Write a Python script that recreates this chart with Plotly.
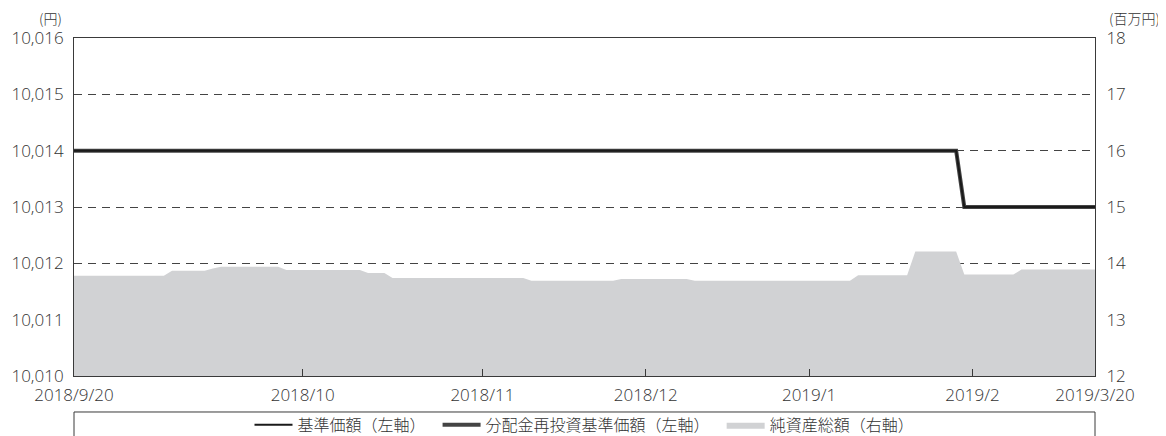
import plotly.graph_objects as go

# x positions are trading-day indices (0 = 2018/9/20, 125 = 2019/3/20)
tick_idx = [0, 28, 50, 70, 90, 110, 125]
tick_labels = ["2018/9/20", "2018/10", "2018/11", "2018/12", "2019/1", "2019/2", "2019/3/20"]

# 基準価額 (円)
nav_idx = [0, 108, 109, 125]
nav_val = [10014, 10014, 10013, 10013]

# 分配金再投資基準価額 (円)
reinv_idx = [0, 108, 109, 125]
reinv_val = [10014, 10014, 10013, 10013]

# 純資産総額 (百万円)
assets_idx = [0, 11, 12, 16, 17, 18, 25, 26, 35, 36, 38, 39, 55, 56, 66, 67,
              75, 76, 95, 96, 102, 103, 108, 109, 115, 116, 125]
assets_val = [13.78, 13.78, 13.87, 13.87, 13.91, 13.94, 13.94, 13.88, 13.88, 13.83,
              13.83, 13.74, 13.74, 13.69, 13.69, 13.72, 13.72, 13.69, 13.69, 13.79,
              13.79, 14.21, 14.21, 13.80, 13.80, 13.89, 13.89]

FONT = "Open Sans, Noto Sans CJK JP"
AX = "#3a3a3a"
TXT = "#333333"
PAD = "\u00a0\u00a0"

fig = go.Figure()
fig.add_trace(go.Scatter(
    x=assets_idx, y=assets_val, name="純資産総額（右軸）", mode="lines",
    line=dict(width=0, color="#d1d2d4"), fill="tozeroy", fillcolor="#d1d2d4",
    xaxis="x", yaxis="y", legendrank=3, hoverinfo="skip"))
fig.add_trace(go.Scatter(
    x=reinv_idx, y=reinv_val, name="分配金再投資基準価額（左軸）" + PAD, mode="lines",
    line=dict(width=4, color="#444444"), xaxis="x", yaxis="y2", legendrank=2))
fig.add_trace(go.Scatter(
    x=nav_idx, y=nav_val, name="基準価額（左軸）" + PAD, mode="lines",
    line=dict(width=2, color="#1a1a1a"), xaxis="x", yaxis="y2", legendrank=1))

fig.update_layout(
    width=1158, height=428,
    margin=dict(l=66, r=71, t=30, b=60),
    paper_bgcolor="white", plot_bgcolor="white",
    font=dict(family=FONT, size=17, color=TXT, weight=300),
    showlegend=True,
    legend=dict(orientation="h", x=0.5, xanchor="center", xref="paper",
                y=0.066, yanchor="top", yref="container",
                font=dict(family="Noto Sans CJK JP", size=16, color=TXT), bgcolor="rgba(0,0,0,0)",
                itemwidth=38, traceorder="normal"),
    xaxis=dict(range=[0, 125], tickmode="array", tickvals=tick_idx, ticktext=tick_labels,
               showgrid=False, zeroline=False, showline=True, linecolor=AX, linewidth=1,
               mirror=True, ticks="inside", ticklen=7, tickcolor=AX, tickwidth=1,
               ticklabelstandoff=4, automargin=False, tickfont=dict(size=17, color=TXT)),
    yaxis=dict(range=[12, 18], side="right", tickvals=[12, 13, 14, 15, 16, 17, 18],
               showgrid=True, gridcolor="#444444", griddash="8px,6px", gridwidth=1,
               zeroline=False, showline=True, linecolor=AX, linewidth=1, ticks="",
               ticklabelstandoff=7, automargin=False, tickfont=dict(size=17, color=TXT)),
    yaxis2=dict(range=[10010, 10016], overlaying="y", side="left",
                tickvals=[10010, 10011, 10012, 10013, 10014, 10015, 10016],
                tickformat=",d", showgrid=False, zeroline=False, showline=True,
                linecolor=AX, linewidth=1, ticks="", ticklabelstandoff=6, automargin=False,
                tickfont=dict(size=17, color=TXT)),
    shapes=[dict(type="rect", xref="paper", yref="paper", x0=0, x1=1, y0=-0.35, y1=-0.1065,
                 line=dict(color=AX, width=1), fillcolor="rgba(0,0,0,0)", layer="below")],
    annotations=[
        dict(text="(円)", xref="paper", yref="paper", x=0, xshift=-24, y=1.0, yshift=20.5,
             xanchor="center", yanchor="middle", showarrow=False,
             font=dict(family="Noto Sans CJK JP", size=14, color=TXT)),
        dict(text="(百万円)", xref="paper", yref="paper", x=1.0, xshift=39, y=1.0, yshift=20.5,
             xanchor="center", yanchor="middle", showarrow=False,
             font=dict(family="Noto Sans CJK JP", size=14, color=TXT)),
    ],
)

fig.write_html("out.html")
